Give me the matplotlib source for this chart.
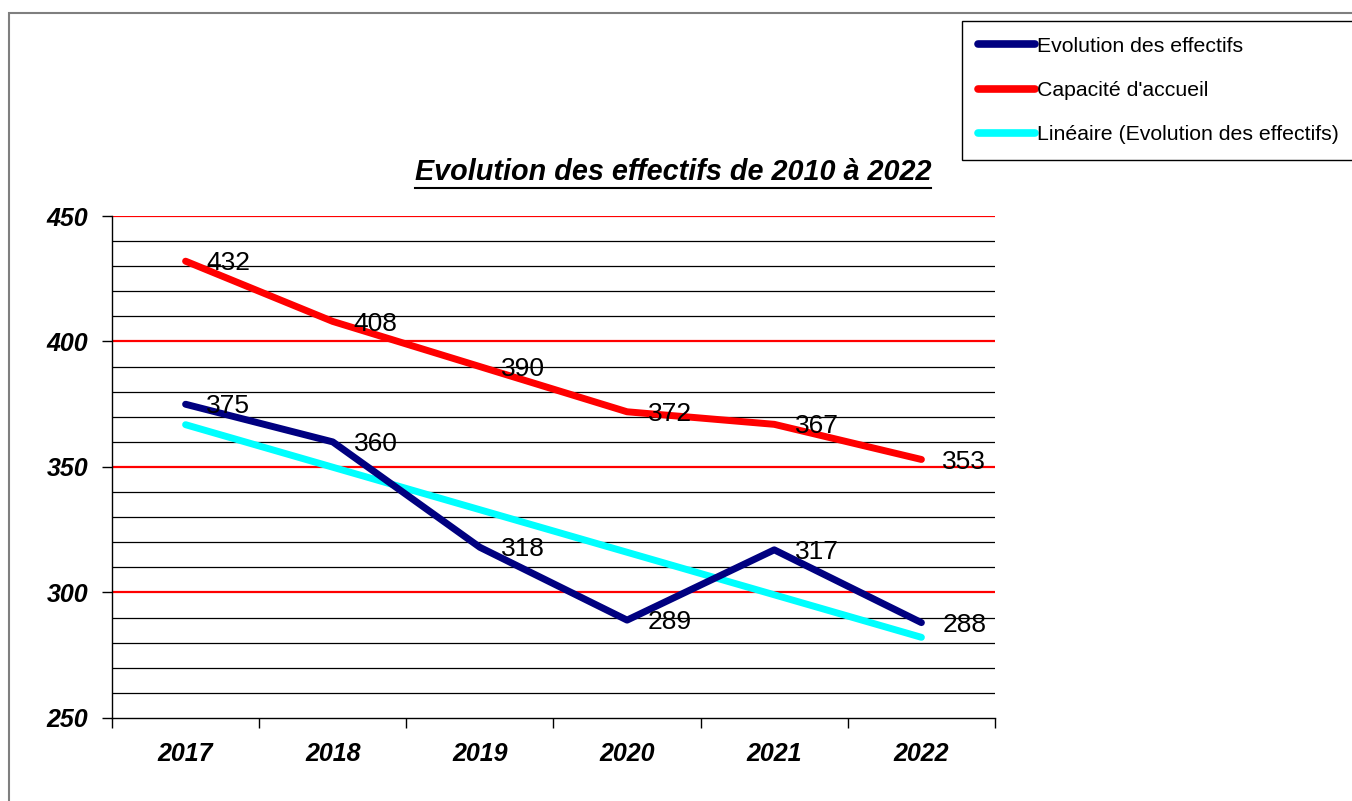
import numpy as np
import matplotlib.pyplot as plt
from matplotlib.lines import Line2D
from matplotlib.patches import Rectangle

# Données
annees = ['2017', '2018', '2019', '2020', '2021', '2022']
effectifs = [375, 360, 318, 289, 317, 288]
capacite = [432, 408, 390, 372, 367, 353]

plt.rcParams['font.family'] = ['Liberation Sans', 'DejaVu Sans']

x = np.arange(len(annees))
# Courbe de tendance linéaire (comme Excel)
a, b = np.polyfit(x, effectifs, 1)
tendance = a * x + b

fig = plt.figure(figsize=(13.52, 8.01), dpi=100)
ax = fig.add_axes([112 / 1352, 1 - 718 / 801, (995 - 112) / 1352, (718 - 216) / 801])

# Cadre de la figure
fig.patches.append(Rectangle((9 / 1352, -0.1), 2, 1.1 - 13 / 801, transform=fig.transFigure,
                             fill=False, edgecolor='#7f7f7f', linewidth=1.5))

# Grille
for v in range(260, 450, 10):
    if v % 50 == 0:
        ax.axhline(v, color='#ff0000', linewidth=1.6, zorder=1)
    else:
        ax.axhline(v, color='black', linewidth=0.9, zorder=1)
ax.axhline(450, color='#ff0000', linewidth=1.6, zorder=1)

l1, = ax.plot(x, effectifs, color='#000080', linewidth=5, solid_capstyle='round',
              solid_joinstyle='round', zorder=3, label='Evolution des effectifs')
l2, = ax.plot(x, capacite, color='#ff0000', linewidth=5, solid_capstyle='round',
              solid_joinstyle='round', zorder=3, label="Capacité d'accueil")
l3, = ax.plot(x, tendance, color='#00ffff', linewidth=5, solid_capstyle='round',
              zorder=2, label='Linéaire (Evolution des effectifs)')

# Étiquettes de données
for serie in (effectifs, capacite):
    for xi, v in zip(x, serie):
        ax.annotate(str(v), (xi, v), xytext=(15, -1.5), textcoords='offset points',
                    ha='left', va='center', fontsize=19, zorder=4)

# Axes
ax.set_xlim(-0.5, len(annees) - 0.5)
ax.set_ylim(250, 450)
ax.set_yticks([250, 300, 350, 400, 450])
ax.set_yticklabels(['250', '300', '350', '400', '450'], fontsize=18,
                   fontweight='bold', fontstyle='italic')
ax.set_xticks(np.arange(-0.5, len(annees), 1.0))
ax.set_xticklabels([])
ax.set_xticks(x, minor=True)
ax.set_xticklabels(annees, minor=True, fontsize=18, fontweight='bold', fontstyle='italic')
ax.tick_params(axis='x', which='major', length=7, direction='out', width=1)
ax.tick_params(axis='x', which='minor', length=0, pad=17)
ax.tick_params(axis='y', which='major', length=7, direction='out', width=1, pad=10)
ax.spines['top'].set_visible(False)
ax.spines['right'].set_visible(False)
ax.spines['left'].set_linewidth(1)
ax.spines['bottom'].set_linewidth(1)

# Titre souligné
titre = fig.text(673 / 1352, 1 - 172 / 801, 'Evolution des effectifs de 2010 à 2022',
                 ha='center', va='center', fontsize=20.7, fontweight='bold', fontstyle='italic')
fig.canvas.draw()
bb = titre.get_window_extent().transformed(fig.transFigure.inverted())
fig.add_artist(Line2D([bb.x0, bb.x1], [bb.y0 - 0.002, bb.y0 - 0.002],
                      transform=fig.transFigure, color='black', linewidth=1.5))

# Légende
leg = fig.legend(handles=[l1, l2, l3], loc='upper left',
                 bbox_to_anchor=(962 / 1352, 1 - 21 / 801), fontsize=15.3,
                 frameon=True, fancybox=False, edgecolor='black', framealpha=1,
                 handlelength=2.7, handletextpad=0.1, labelspacing=1.19,
                 borderpad=0.74, borderaxespad=0)
leg.get_frame().set_linewidth(1)
for h in leg.get_lines():
    h.set_linewidth(5.5)

fig.savefig('out.png', dpi=100)
